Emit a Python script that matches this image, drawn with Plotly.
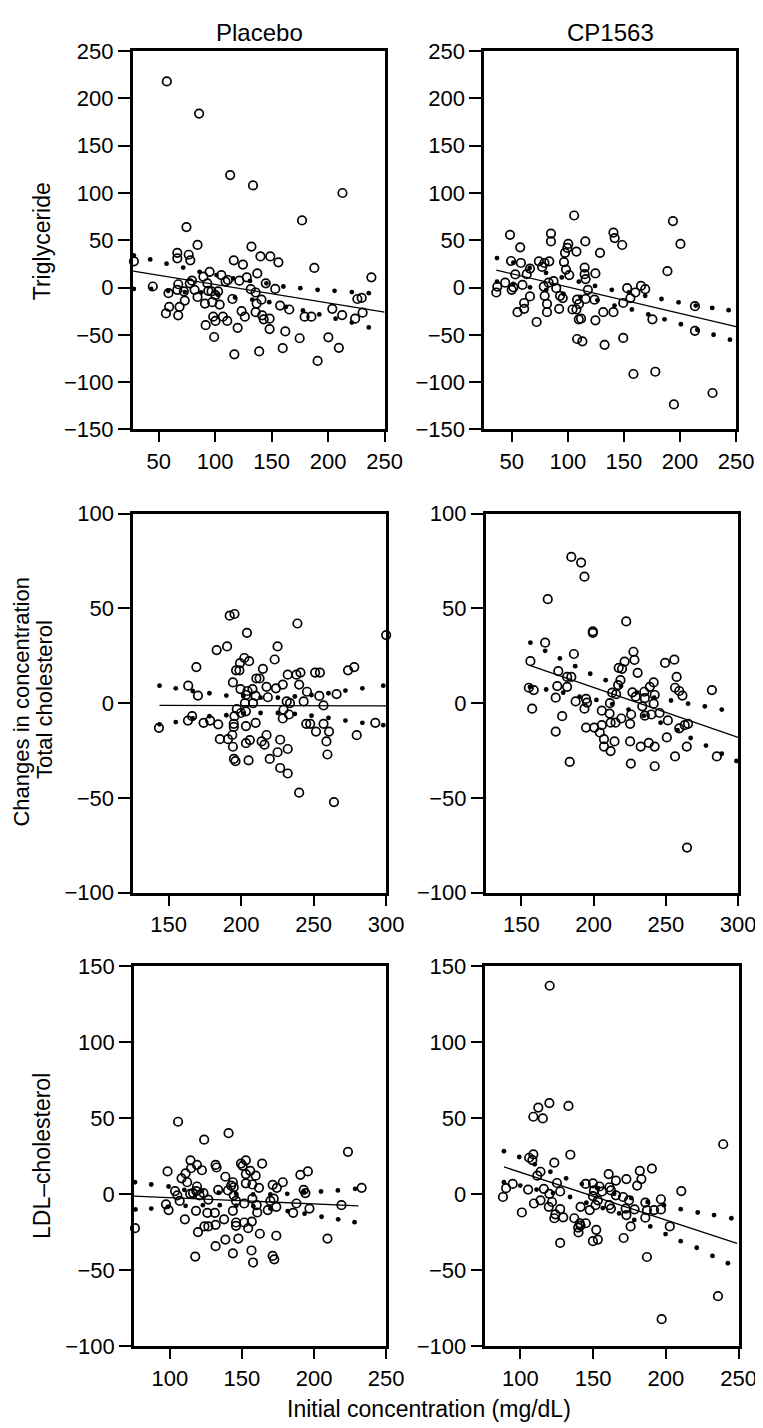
import plotly.graph_objects as go

W, H = 763, 1428

# ---------------- DATA ----------------
# Panel 1: Placebo, Triglyceride
tg_pl_x = [57.2, 85.8, 113.3, 133.5, 212.7, 176.9, 74.6, 84.4, 66.5, 76.6, 66.5, 78.0, 28.1, 132.1, 116.5,
           124.6, 140.1, 148.8, 156.0, 187.8, 238.3, 95.1, 89.6, 105.5, 111.3, 109.2, 121.4, 128.0, 137.3,
           144.8, 153.2, 67.3, 79.5, 77.5, 44.8, 58.7, 66.5, 72.3, 81.8, 93.1, 93.9, 96.8, 102.6, 84.4, 73.1,
           91.0, 100.3, 97.4, 104.0, 131.5, 135.8, 115.3, 141.0, 136.7, 157.5, 165.6, 179.2, 185.2, 203.7,
           212.4, 223.9, 225.9, 229.7, 230.5, 59.3, 56.4, 68.5, 67.3, 98.3, 100.3, 106.9, 110.7, 123.4, 126.3,
           135.8, 141.6, 143.0, 148.2, 91.6, 119.9, 148.2, 162.1, 174.8, 200.2, 209.5, 99.1, 117.0, 139.0,
           159.8, 190.7]
tg_pl_y = [218, 184, 119, 108, 100, 71, 64, 45.1, 36.7, 34.7, 30.9, 28.8, 27.7, 43.3, 28.8,
           24.3, 32.9, 32.9, 26.7, 20.8, 10.8, 16.6, 11.5, 13.2, 8.0, 6.3, 7.3, 10.8, 14.9,
           4.5, -1.4, 3.5, 7.3, 4.5, 1.1, -5.9, -2.4, -4.1, -2.4, 4.5, -3.4, -4.1, -4.1, -10.0, -13.8,
           -16.9, -7.9, -15.5, -18.0, -1.7, -5.2, -12.1, -12.8, -16.9, -19.0, -23.2, -30.8, -30.8, -22.5,
           -29.1, -32.9, -12.1, -11.0, -26.6, -20.4, -27.3, -20.4, -29.4, -30.8, -35.3, -30.8, -35.3, -24.9, -30.8,
           -26.0, -29.4, -33.6, -32.9, -39.8, -42.6, -43.9, -46.4, -53.6, -52.6, -63.7, -52.3, -70.6, -67.5,
           -64.1, -77.6]
tg_pl_up_x = [28, 42.5, 57, 71.7, 86.2, 101.2, 115.9, 130.9, 145.4, 160.4, 175.4, 190.7, 205.7, 221, 236]
tg_pl_up_y = [34.0, 29.8, 25.3, 21.1, 16.6, 13.2, 9.7, 7.0, 4.5, 1.1, -0.7, -2.4, -3.5, -4.8, -5.9]
tg_pl_lo_x = [28, 43.4, 58.4, 73.1, 87.6, 102.6, 117.6, 132.9, 147.9, 162.7, 177.7, 192.2, 206.6, 221, 236]
tg_pl_lo_y = [-1.4, -1.4, -3.5, -4.8, -5.2, -7.6, -10.4, -12.8, -15.5, -20.4, -24.2, -28.4, -32.9, -37.0, -42.2]
tg_pl_fit_x = [27.5, 250]
tg_pl_fit_y = [17.3, -25.9]

# Panel 2: CP1563, Triglyceride
tg_cp_x = [105.7, 193.7, 200.4, 48.5, 85.0, 85.0, 57.6, 100.4, 99.6, 97.5, 107.7, 115.6, 128.7, 140.7, 141.8,
           148.5, 188.8, 49.4, 58.2, 53.2, 66.3, 74.2, 79.2, 83.5, 77.1, 63.4, 96.6, 98.4, 101.3, 115.0,
           115.0, 115.9, 124.6, 36.3, 37.2, 44.2, 50.0, 51.5, 59.6, 78.6, 82.9, 87.3, 89.7, 93.1, 95.5,
           79.4, 66.3, 61.1, 61.1, 55.2, 81.5, 81.5, 92.3, 72.2, 117.9, 108.3, 110.0, 115.9, 123.8, 104.2,
           107.7, 109.8, 111.8, 124.6, 131.6, 140.7, 149.4, 152.9, 155.8, 160.2, 165.2, 169.0, 175.4, 213.3,
           213.3, 108.3, 113.0, 132.8, 149.4, 158.5, 178.0, 194.6, 229.0]
tg_cp_y = [76.2, 70.3, 46.1, 55.8, 57.1, 48.8, 42.6, 46.1, 41.9, 36.7, 38.1, 48.8, 36.7, 58.2, 52.3,
           45.0, 17.3, 28.1, 26.0, 13.9, 20.1, 27.7, 26.0, 27.7, 21.8, 14.2, 27.0, 19.0, 13.2, 21.1,
           14.2, 9.0, 14.9, -5.2, 1.0, 5.2, -2.4, 0.3, 2.8, 1.0, 5.2, 6.9, -0.7, -8.7, -11.1,
           -8.7, -9.4, -16.3, -22.5, -26.0, -17.3, -26.0, -22.5, -36.4, -2.4, -12.8, -17.3, -12.1, -12.8, -23.2,
           -23.2, -33.6, -32.9, -34.6, -26.0, -26.0, -16.3, -0.7, -11.1, -5.2, 1.7, -1.7, -33.6, -19.7,
           -45.7, -54.4, -56.8, -60.6, -53.3, -91.4, -89.0, -123.6, -111.5]
tg_cp_up_x = [36.9, 51.5, 66.0, 80.6, 94.6, 109.8, 124.3, 139.2, 154.4, 169.0, 183.5, 198.7, 214.1, 228.7, 243.3]
tg_cp_up_y = [31.2, 26.3, 20.8, 15.6, 10.7, 6.2, 1.7, -2.4, -5.2, -8.7, -12.1, -15.6, -19.0, -21.5, -23.9]
tg_cp_lo_x = [36.9, 51.5, 66.3, 80.9, 96.1, 111.2, 126.4, 141.6, 157.1, 171.7, 186.2, 200.8, 215.4, 229.9, 244.5]
tg_cp_lo_y = [6.2, 3.8, 0.3, -2.4, -6.6, -10.0, -13.5, -19.0, -23.2, -28.4, -33.6, -38.8, -44.7, -49.9, -55.1]
tg_cp_fit_x = [36.3, 250]
tg_cp_fit_y = [18.4, -41.2]

# Panel 3: Placebo, Total cholesterol
tc_pl_x = [192.1, 195.4, 238.8, 204.0, 300.0, 183.1, 190.3, 225.1, 223.1, 202.2, 205.5, 199.2, 169.1, 196.5,
           198.8, 215.0, 210.5, 212.7, 232.1, 238.1, 240.9, 251.0, 254.3, 273.7, 278.0, 194.3, 163.5, 170.2,
           199.5, 204.4, 207.8, 217.5, 224.0, 228.7, 240.0, 245.4, 253.9, 265.8, 203.3, 210.0, 218.4, 202.6,
           208.2, 231.4, 233.7, 243.1, 256.8, 197.0, 199.9, 203.3, 195.4, 194.9, 194.9, 229.2, 233.0, 228.7,
           210.0, 203.3, 244.9, 247.6, 256.8, 251.6, 260.6, 258.8, 259.5, 279.7, 292.5, 143.3, 163.3, 166.2,
           174.1, 178.6, 184.2, 185.3, 190.9, 193.9, 194.3, 203.3, 206.0, 214.1, 216.1, 217.5, 226.9, 225.1,
           232.1, 195.0, 196.1, 205.1, 219.7, 226.9, 232.1, 240.0, 264.0]
tc_pl_y = [46.1, 47.0, 42.0, 37.1, 35.9, 28.0, 29.9, 29.9, 23.0, 23.8, 22.1, 21.1, 19.0, 17.3,
           17.3, 18.1, 13.0, 13.0, 15.0, 15.0, 16.1, 16.1, 16.1, 17.3, 19.0, 10.9, 9.2, 4.0,
           7.4, 6.4, 7.4, 8.6, 7.8, 9.8, 9.8, 6.0, 3.8, 4.8, 4.3, 3.8, 3.1, 0.0,
           0.0, 0.9, 0.0, 0.9, -1.2, -3.1, -5.2, -4.3, -6.9, -10.9, -12.6, -3.5, -6.0, -8.1,
           -10.4, -12.1, -10.9, -10.9, -10.9, -15.0, -15.0, -20.2, -27.1, -16.9, -10.4, -13.0, -9.2, -6.9,
           -10.4, -9.2, -11.2, -19.0, -19.0, -16.8, -23.0, -21.1, -19.5, -20.2, -21.9, -16.8, -19.3, -25.9,
           -24.2, -29.4, -30.6, -30.2, -29.4, -34.2, -37.1, -47.2, -52.2]
tc_pl_up_x = [143.7, 154.9, 166.6, 178.1, 189.8, 201.5, 213.4, 225.3, 237.0, 248.5, 260.2, 271.9, 283.6, 298.0]
tc_pl_up_y = [9.2, 7.8, 6.4, 5.2, 4.0, 3.8, 2.9, 2.9, 3.5, 4.3, 5.2, 6.6, 7.8, 9.2]
tc_pl_lo_x = [143.7, 154.9, 166.6, 178.1, 189.8, 201.5, 213.4, 225.3, 237.0, 248.5, 260.2, 271.9, 283.6, 298.0]
tc_pl_lo_y = [-11.2, -10.0, -8.1, -6.9, -6.4, -5.5, -5.2, -5.2, -5.7, -6.6, -7.8, -9.2, -10.4, -11.6]
tc_pl_fit_x = [143.7, 300]
tc_pl_fit_y = [-1.2, -1.4]

# Panel 4: CP1563, Total cholesterol
tc_cp_x = [184.6, 191.4, 193.7, 168.3, 264.7, 222.6, 199.5, 199.5, 166.5, 156.3, 186.4, 175.6, 181.7, 184.6,
           181.7, 174.9, 155.2, 158.6, 173.8, 157.5, 178.3, 173.8, 183.5, 187.6, 194.8, 195.5, 193.7, 205.7,
           211.3, 212.9, 215.6, 217.0, 218.6, 217.4, 219.7, 221.5, 227.6, 228.3, 230.5, 226.9, 229.2, 235.5,
           235.1, 238.9, 241.6, 242.3, 241.6, 233.7, 240.0, 235.5, 245.7, 249.5, 255.9, 257.5, 256.4, 259.3,
           261.5, 281.9, 211.1, 211.8, 215.2, 219.2, 225.3, 226.0, 194.8, 200.5, 204.3, 205.7, 207.2, 207.2,
           211.8, 214.5, 225.3, 232.6, 238.2, 242.3, 225.8, 242.3, 251.4, 250.7, 256.4, 259.3, 263.1, 265.4,
           264.5, 285.3]
tc_cp_y = [77.1, 74.1, 66.7, 54.8, -76.2, 43.1, 37.9, 37.1, 31.9, 22.1, 25.9, 16.9, 13.8, 13.8,
           8.6, 9.0, 8.1, 6.9, 2.9, -2.9, -6.9, -15.0, -31.0, 0.9, 2.2, 0.3, -2.9, -4.0,
           0.0, 5.5, 4.7, 9.5, 12.1, 18.6, 18.1, 21.9, 27.1, 22.8, 16.0, 5.7, 3.4, 2.6,
           6.0, 8.6, 10.9, 4.3, -0.3, -1.7, -6.0, -6.6, -5.2, 21.2, 22.9, 13.8, 8.1, 6.4,
           4.0, 6.9, -5.5, -10.3, -10.3, -8.1, -10.9, -6.0, -12.9, -12.9, -15.5, -11.6, -19.0, -22.9,
           -25.3, -20.2, -20.2, -22.9, -21.0, -22.9, -31.9, -33.3, -9.1, -18.1, -28.1, -13.3, -11.6, -10.9,
           -22.9, -28.1]
tc_cp_up_x = [156.3, 166.5, 176.7, 187.3, 197.7, 208.4, 219.0, 229.9, 242.0, 253.6, 265.4, 277.0, 288.7]
tc_cp_up_y = [31.9, 27.6, 23.6, 19.5, 15.5, 12.1, 9.0, 5.7, 2.9, 1.4, -0.3, -1.7, -3.4]
tc_cp_lo_x = [156.0, 167.2, 179.0, 190.3, 202.0, 212.9, 224.2, 234.8, 246.4, 258.1, 267.2, 277.8, 288.7, 298.9]
tc_cp_lo_y = [8.5, 7.2, 5.5, 3.4, 1.7, -0.5, -3.4, -6.6, -10.3, -14.3, -18.4, -22.4, -26.7, -30.5]
tc_cp_fit_x = [156.3, 300]
tc_cp_fit_y = [19.8, -18.1]

# Panel 5: Placebo, LDL-cholesterol
ldl_pl_x = [105.7, 123.8, 140.7, 223.5, 114.3, 118.8, 114.7, 122.2, 131.7, 132.4, 149.3, 152.7, 150.5, 155.7,
            152.7, 159.5, 164.0, 98.4, 108.1, 110.9, 112.0, 118.8, 138.5, 143.7, 142.5, 144.3, 152.7, 157.2,
            161.8, 171.3, 174.2, 178.3, 190.5, 195.7, 192.8, 194.0, 233.0, 103.6, 105.2, 106.8, 116.1, 118.3,
            123.3, 126.7, 120.6, 114.1, 97.3, 99.1, 133.5, 140.3, 144.3, 145.9, 151.6, 157.2, 160.2, 160.6,
            169.7, 172.0, 173.8, 167.9, 187.8, 185.5, 196.8, 219.0, 126.0, 131.2, 110.4, 118.1, 137.6, 143.7,
            145.9, 145.9, 151.6, 154.3, 156.8, 131.7, 126.7, 124.0, 119.5, 138.5, 131.7, 147.5, 162.4, 173.8,
            209.3, 75.8, 117.6, 143.7, 156.6, 157.7, 171.3, 172.4]
ldl_pl_y = [47.8, 36.0, 40.3, 28.0, 22.4, 19.4, 17.2, 15.9, 19.4, 17.7, 20.3, 22.4, 18.8, 15.5,
            13.4, 12.3, 20.3, 15.1, 10.6, 13.8, 8.0, 5.2, 11.6, 8.0, 5.8, 4.7, 7.3, 6.5,
            4.3, 6.3, 4.3, 8.0, 12.9, 15.1, 3.0, 0.9, 4.3, 2.2, -0.6, -4.3, 0.9, 2.2,
            0.9, -3.4, -0.6, 0.4, -6.5, -10.3, 3.0, 2.6, -0.6, -4.3, -6.0, -2.8, -7.1, -11.9,
            -4.3, -2.8, -8.2, -10.3, -6.0, -12.1, -9.3, -7.1, -12.1, -12.1, -16.4, -10.8, -16.4, -10.8,
            -18.5, -20.7, -18.5, -22.2, -17.9, -20.0, -21.1, -21.1, -24.8, -29.7, -34.1, -29.1, -25.9, -27.2,
            -29.1, -22.2, -40.9, -38.8, -36.9, -44.8, -40.5, -42.7]
ldl_pl_up_x = [75.8, 87.1, 99.1, 110.0, 122.2, 133.9, 145.9, 157.7, 169.7, 181.4, 193.0, 204.8, 216.5, 228.5]
ldl_pl_up_y = [8.0, 6.5, 5.2, 3.0, 2.2, 1.1, 0.4, 0.0, 0.0, 0.4, 1.5, 1.9, 2.6, 3.7]
ldl_pl_lo_x = [76.2, 87.1, 98.9, 110.9, 122.9, 134.6, 146.0, 157.9, 169.7, 181.7, 193.4, 205.2, 216.7, 228.1]
ldl_pl_lo_y = [-9.9, -9.3, -8.0, -7.5, -7.1, -7.1, -7.4, -7.8, -9.3, -11.0, -12.7, -14.7, -16.4, -18.3]
ldl_pl_fit_x = [75.1, 230.8]
ldl_pl_fit_y = [-1.1, -7.5]

# Panel 6: CP1563, LDL-cholesterol
ldl_cp_x = [120.2, 120.0, 133.1, 112.4, 109.0, 115.5, 134.4, 239.4, 197.1, 235.8, 250.2, 187.0, 106.1, 109.0,
            108.3, 123.4, 113.9, 111.7, 125.2, 94.8, 90.3, 88.1, 105.4, 101.1, 109.4, 113.9, 116.2, 120.0,
            121.8, 127.4, 119.6, 127.4, 124.1, 123.4, 129.5, 127.4, 137.1, 140.9, 139.8, 141.4, 140.0, 145.0,
            141.4, 145.0, 149.9, 150.6, 154.4, 156.2, 149.9, 153.3, 151.7, 147.7, 152.2, 149.9, 153.3, 160.7,
            165.7, 161.2, 162.3, 165.7, 170.6, 172.9, 174.7, 180.3, 182.1, 183.2, 190.4, 161.2, 162.3, 172.4,
            172.9, 175.8, 171.0, 178.5, 185.9, 187.0, 185.9, 191.9, 196.6, 196.6, 202.7, 210.6]
ldl_cp_y = [137.3, 60.1, 58.2, 57.1, 51.1, 50.0, 26.1, 33.0, -82.1, -67.0, -64.2, -41.2, 24.1, 26.3,
            22.6, 20.9, 14.9, 12.3, 7.5, 6.9, 4.1, -1.7, 3.2, -11.9, -6.0, -3.9, 3.7, 0.4,
            -5.0, 1.9, -8.2, -9.7, -13.1, -15.7, -15.1, -31.9, -15.7, -19.0, -21.8, -20.5, -25.0, -19.0,
            -8.2, 6.9, 7.3, 2.6, 5.2, 1.9, -1.1, -3.9, -7.1, -10.3, -23.3, -30.8, -29.7, 13.4,
            9.1, 4.7, 2.6, -0.6, -1.7, 10.1, -3.9, 5.8, 15.5, 10.1, 17.0, -7.1, -9.3, -9.3,
            -13.6, -21.1, -28.7, -9.9, -5.4, -10.3, -15.3, -10.3, -3.2, -9.9, -21.1, 2.2]
ldl_cp_up_x = [88.8, 99.3, 109.9, 120.7, 131.5, 142.3, 153.3, 164.5, 176.2, 187.5, 198.7, 210.2, 221.9, 233.1, 245.0]
ldl_cp_up_y = [28.4, 24.6, 19.8, 14.9, 10.6, 6.9, 4.1, 0.4, -2.4, -5.0, -7.1, -9.7, -11.9, -13.6, -15.7]
ldl_cp_lo_x = [88.8, 100.0, 111.2, 122.5, 134.2, 145.4, 156.7, 167.9, 178.3, 189.3, 199.8, 210.2, 221.2, 232.0, 242.6]
ldl_cp_lo_y = [8.0, 5.8, 3.2, 0.9, -1.7, -5.5, -9.0, -12.5, -16.8, -21.1, -26.1, -30.8, -35.1, -40.5, -45.3]
ldl_cp_fit_x = [88.8, 248.9]
ldl_cp_fit_y = [18.1, -32.3]

# Tick values
tg_yticks = [-150, -100, -50, 0, 50, 100, 150, 200, 250]
tg_xticks = [50, 100, 150, 200, 250]
tc_yticks = [-100, -50, 0, 50, 100]
tc_xticks = [150, 200, 250, 300]
ldl_yticks = [-100, -50, 0, 50, 100, 150]
ldl_xticks = [100, 150, 200, 250]

col_titles = ["Placebo", "CP1563"]
row_titles = ["Triglyceride", "Changes in concentration", "Total cholesterol", "LDL\u2013cholesterol"]
x_title = "Initial concentration (mg/dL)"

# ---------------- LAYOUT (pixel boxes of each panel) ----------------
panels = [
    dict(box=(127.7, 385.7, 31.7, 416.7), xr=[27, 250], yr=[-150, 250], xt=tg_xticks, yt=tg_yticks,
         pts=(tg_pl_x, tg_pl_y), up=(tg_pl_up_x, tg_pl_up_y), lo=(tg_pl_lo_x, tg_pl_lo_y), fit=(tg_pl_fit_x, tg_pl_fit_y)),
    dict(box=(487.7, 745.7, 31.7, 416.7), xr=[25.5, 250], yr=[-150, 250], xt=tg_xticks, yt=tg_yticks,
         pts=(tg_cp_x, tg_cp_y), up=(tg_cp_up_x, tg_cp_up_y), lo=(tg_cp_lo_x, tg_cp_lo_y), fit=(tg_cp_fit_x, tg_cp_fit_y)),
    dict(box=(128.3, 387.3, 502.3, 888.3), xr=[125.6, 300], yr=[-100, 100], xt=tc_xticks, yt=tc_yticks,
         pts=(tc_pl_x, tc_pl_y), up=(tc_pl_up_x, tc_pl_up_y), lo=(tc_pl_lo_x, tc_pl_lo_y), fit=(tc_pl_fit_x, tc_pl_fit_y)),
    dict(box=(489.3, 747.7, 502.3, 888.3), xr=[125.4, 300], yr=[-100, 100], xt=tc_xticks, yt=tc_yticks,
         pts=(tc_cp_x, tc_cp_y), up=(tc_cp_up_x, tc_cp_up_y), lo=(tc_cp_lo_x, tc_cp_lo_y), fit=(tc_cp_fit_x, tc_cp_fit_y)),
    dict(box=(129.0, 387.3, 963.3, 1350.0), xr=[75.1, 250], yr=[-100, 150], xt=ldl_xticks, yt=ldl_yticks,
         pts=(ldl_pl_x, ldl_pl_y), up=(ldl_pl_up_x, ldl_pl_up_y), lo=(ldl_pl_lo_x, ldl_pl_lo_y), fit=(ldl_pl_fit_x, ldl_pl_fit_y)),
    dict(box=(489.0, 748.3, 963.3, 1350.0), xr=[76.1, 250], yr=[-100, 150], xt=ldl_xticks, yt=ldl_yticks,
         pts=(ldl_cp_x, ldl_cp_y), up=(ldl_cp_up_x, ldl_cp_up_y), lo=(ldl_cp_lo_x, ldl_cp_lo_y), fit=(ldl_cp_fit_x, ldl_cp_fit_y)),
]

FONT = "Liberation Sans, Arial, Helvetica, sans-serif"
fig = go.Figure()
layout = dict(
    width=W, height=H, margin=dict(l=0, r=0, t=0, b=0),
    paper_bgcolor="white", plot_bgcolor="white", showlegend=False,
    font=dict(family=FONT, color="black", size=22),
)

for i, p in enumerate(panels, start=1):
    xa = "x" if i == 1 else f"x{i}"
    ya = "y" if i == 1 else f"y{i}"
    x0, x1, y0, y1 = p["box"]
    common = dict(showgrid=False, zeroline=False, showline=True, linecolor="black", linewidth=2.6,
                  mirror=True, ticks="outside", tickcolor="black", tickwidth=2,
                  tickfont=dict(size=22, family=FONT, color="black"), fixedrange=True)
    layout["xaxis" if i == 1 else f"xaxis{i}"] = dict(
        domain=[x0 / W, x1 / W], range=p["xr"], tickvals=p["xt"], ticklen=10,
        anchor=ya, **common)
    layout["yaxis" if i == 1 else f"yaxis{i}"] = dict(
        domain=[1 - y1 / H, 1 - y0 / H], range=p["yr"], tickvals=p["yt"], ticklen=12,
        anchor=xa, **common)

    fig.add_trace(go.Scatter(x=p["fit"][0], y=p["fit"][1], mode="lines", xaxis=xa, yaxis=ya,
                             line=dict(color="black", width=1.3), hoverinfo="skip"))
    for bx, by in (p["up"], p["lo"]):
        fig.add_trace(go.Scatter(x=bx, y=by, mode="markers", xaxis=xa, yaxis=ya, cliponaxis=False,
                                 marker=dict(symbol="circle", size=4.8, color="black", line=dict(width=0))))
    fig.add_trace(go.Scatter(x=p["pts"][0], y=p["pts"][1], mode="markers", xaxis=xa, yaxis=ya, cliponaxis=False,
                             marker=dict(symbol="circle-open", size=8.5, color="black",
                                         line=dict(width=1.7, color="black"))))

ann = []
def add_text(text, px, py, size, angle=0):
    ann.append(dict(text=text, x=px / W, y=1 - py / H, xref="paper", yref="paper",
                    xanchor="center", yanchor="middle", showarrow=False, textangle=angle,
                    font=dict(size=size, family=FONT, color="black")))

add_text(col_titles[0], 257.7, 13, 24)
add_text(col_titles[1], 616.7, 13, 24)
add_text(row_titles[0], 35, 225, 23, -90)
add_text(row_titles[1], 14, 694, 22, -90)
add_text(row_titles[2], 38, 692, 22, -90)
add_text(row_titles[3], 35, 1156, 23, -90)
add_text(x_title, 431.5, 1414, 23)

layout["annotations"] = ann
fig.update_layout(**layout)
fig.write_html("out.html")
